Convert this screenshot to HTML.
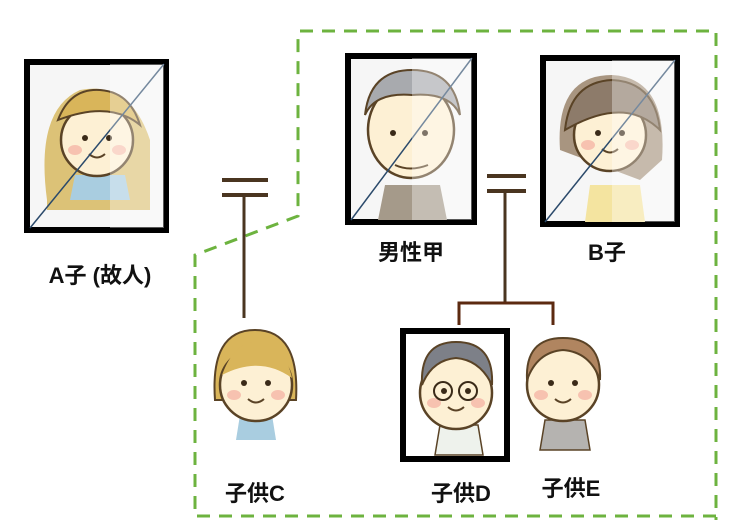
<!DOCTYPE html>
<html><head><meta charset="utf-8"><style>
html,body{margin:0;padding:0;background:#fff;width:736px;height:526px;overflow:hidden}
text{font-family:"Liberation Sans","Noto Sans CJK JP",sans-serif;font-weight:bold;fill:#111;font-size:22px}
</style></head><body>
<svg width="736" height="526" viewBox="0 0 736 526" xmlns="http://www.w3.org/2000/svg">
<defs>
<g id="face">
 <circle cx="0" cy="0" r="36" fill="#fdf0d4" stroke="#5a4326" stroke-width="2.5"/>
 <circle cx="-12" cy="-2" r="3" fill="#3a2a18"/><circle cx="12" cy="-2" r="3" fill="#3a2a18"/>
 <ellipse cx="-22" cy="10" rx="7" ry="5" fill="#f7c2b0"/><ellipse cx="22" cy="10" rx="7" ry="5" fill="#f7c2b0"/>
 <path d="M-8 14 Q0 21 8 14" fill="none" stroke="#5a4326" stroke-width="2"/>
</g>
</defs>
<path d="M300 31 L716 31 L716 520 M716 516 L195 516 L195 255 L298 216 L298 31" fill="none" stroke="#6db33f" stroke-width="3" stroke-dasharray="13 9"/>
<rect x="27" y="62" width="139" height="168" fill="#f6f6f6" stroke="#000" stroke-width="6"/>
<path d="M47 200 Q35 110 80 90 Q130 80 150 140 L150 210 L47 210Z" fill="#dcc277"/>
<path d="M70 200 L75 175 L125 175 L130 200Z" fill="#a9cde0"/>
<use href="#face" x="97" y="140"/>
<path d="M58 120 Q70 88 100 90 Q130 92 140 125 Q110 100 58 120Z" fill="#d9b55a" stroke="#5a4326" stroke-width="2"/>
<line x1="30" y1="228" x2="164" y2="64" stroke="#2b4a6b" stroke-width="1.5"/>
<rect x="110" y="64" width="54" height="164" fill="rgba(255,255,255,0.35)"/>
<text x="100" y="283" text-anchor="middle">A子 (故人)</text>
<line x1="222" y1="180" x2="268" y2="180" stroke="#4a3520" stroke-width="4"/>
<line x1="222" y1="195" x2="268" y2="195" stroke="#4a3520" stroke-width="4"/>
<line x1="244" y1="195" x2="244" y2="318" stroke="#4a3520" stroke-width="3"/>
<path d="M215 400 Q210 330 255 330 Q300 330 296 400Z" fill="#d9b55a" stroke="#5a4326" stroke-width="2"/>
<path d="M236 440 L240 415 L272 415 L276 440Z" fill="#a9cde0"/>
<use href="#face" x="256" y="385"/>
<path d="M222 375 Q235 340 258 342 Q285 345 292 378 Q260 355 222 375Z" fill="#d9b55a"/>
<text x="255" y="501" text-anchor="middle">子供C</text>
<rect x="348" y="56" width="126" height="166" fill="#f6f6f6" stroke="#000" stroke-width="6"/>
<path d="M378 220 L385 185 L440 185 L447 220Z" fill="#a59a8a"/>
<ellipse cx="411" cy="130" rx="43" ry="48" fill="#fdf0d4" stroke="#5a4326" stroke-width="2.5"/>
<path d="M365 115 Q370 70 412 70 Q455 70 460 115 Q450 92 412 95 Q375 92 365 115Z" fill="#a8aaae" stroke="#5a4326" stroke-width="2"/>
<circle cx="393" cy="133" r="3" fill="#3a2a18"/><circle cx="425" cy="133" r="3" fill="#3a2a18"/>
<path d="M395 165 Q410 172 428 165" fill="none" stroke="#5a4326" stroke-width="2"/>
<line x1="351" y1="220" x2="472" y2="58" stroke="#2b4a6b" stroke-width="1.5"/>
<rect x="412" y="58" width="60" height="162" fill="rgba(255,255,255,0.35)"/>
<text x="411" y="260" text-anchor="middle">男性甲</text>
<rect x="543" y="58" width="134" height="166" fill="#f6f6f6" stroke="#000" stroke-width="6"/>
<path d="M585 222 L590 185 L640 185 L645 222Z" fill="#f4e4a0"/>
<path d="M560 150 Q555 75 612 75 Q668 78 662 160 L640 180 Z" fill="#a89580"/>
<use href="#face" x="610" y="135"/>
<path d="M565 130 Q570 82 612 80 Q655 82 660 130 Q625 95 565 130Z" fill="#8d7b6a" stroke="#5a4326" stroke-width="2"/>
<line x1="545" y1="222" x2="675" y2="60" stroke="#2b4a6b" stroke-width="1.5"/>
<rect x="612" y="60" width="63" height="162" fill="rgba(255,255,255,0.35)"/>
<text x="607" y="260" text-anchor="middle">B子</text>
<line x1="487" y1="176" x2="526" y2="176" stroke="#4a3520" stroke-width="4"/>
<line x1="487" y1="191" x2="526" y2="191" stroke="#4a3520" stroke-width="4"/>
<line x1="505" y1="191" x2="505" y2="302" stroke="#4a3520" stroke-width="3"/>
<path d="M459 325 L459 303 L553 303 L553 325" fill="none" stroke="#5c2a10" stroke-width="3"/>
<rect x="403" y="331" width="104" height="128" fill="#fff" stroke="#000" stroke-width="6"/>
<path d="M435 455 L440 425 L478 425 L483 455Z" fill="#eef2ec" stroke="#5a4326" stroke-width="1.5"/>
<use href="#face" x="456" y="393"/>
<path d="M422 385 Q420 342 456 342 Q494 342 492 385 Q480 360 456 358 Q432 360 422 385Z" fill="#7d8088" stroke="#5a4326" stroke-width="2"/>
<circle cx="443" cy="391" r="9" fill="none" stroke="#3a2a18" stroke-width="2"/><circle cx="468" cy="391" r="9" fill="none" stroke="#3a2a18" stroke-width="2"/>
<text x="461" y="501" text-anchor="middle">子供D</text>
<path d="M540 450 L545 420 L585 420 L590 450Z" fill="#b5b3b0" stroke="#5a4326" stroke-width="1.5"/>
<use href="#face" x="563" y="385"/>
<path d="M527 380 Q525 338 563 338 Q602 338 600 380 Q590 352 563 350 Q537 352 527 380Z" fill="#b08560" stroke="#5a4326" stroke-width="2"/>
<text x="571" y="496" text-anchor="middle">子供E</text>
</svg>
</body></html>
